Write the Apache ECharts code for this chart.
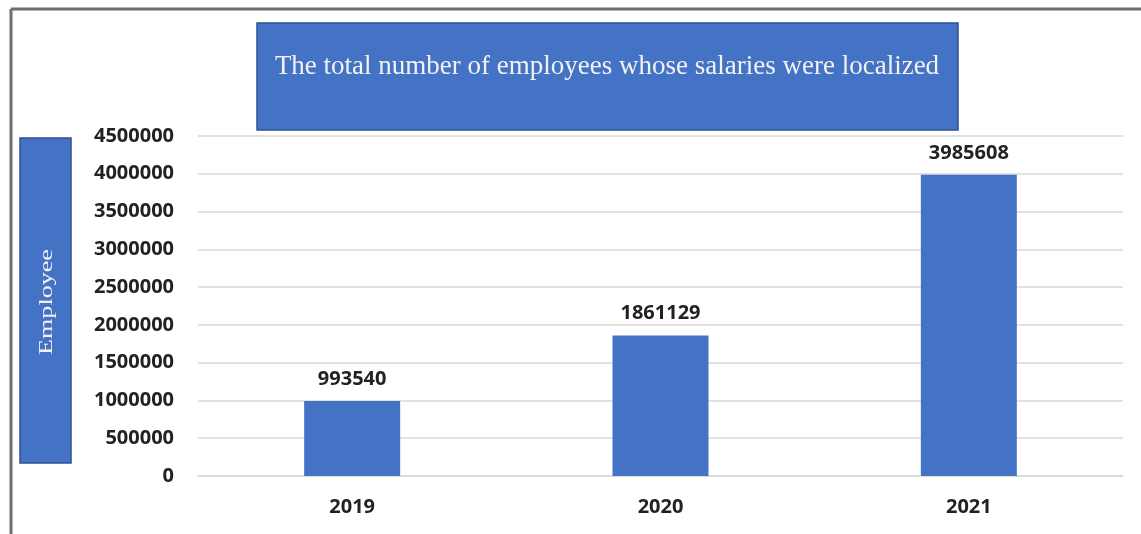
<!DOCTYPE html>
<html>
<head>
<meta charset="utf-8">
<script src="https://cdn.jsdelivr.net/npm/echarts@6/dist/echarts.min.js"></script>
<style>html,body{margin:0;padding:0;background:#fff;}#c{width:1141px;height:534px;}</style>
</head>
<body>
<div id="c"></div>
<script>
var categories = ['2019', '2020', '2021'];
var employees = [993540, 1861129, 3985608];
var titleText = 'The total number of employees whose salaries were localized';
var yAxisName = 'Employee';

var chart = echarts.init(document.getElementById('c'));
var labelFont = { fontFamily: 'Open Sans', fontWeight: 'bold', fontSize: 20, color: '#222' };
chart.setOption({
  animation: false,
  grid: { left: 198, right: 18, top: 136, bottom: 58 },
  xAxis: {
    type: 'category',
    data: categories,
    axisTick: { show: false },
    axisLine: { lineStyle: { color: '#d9d9d9', width: 1.5 } },
    axisLabel: Object.assign({ margin: 21 }, labelFont)
  },
  yAxis: {
    type: 'value',
    min: 0, max: 4500000, interval: 500000,
    axisLine: { show: false },
    axisTick: { show: false },
    splitLine: { lineStyle: { color: '#d9d9d9', width: 1.5 } },
    axisLabel: Object.assign({ margin: 24, formatter: function (v) { return String(v); } }, labelFont)
  },
  series: [{
    type: 'bar',
    data: employees,
    barWidth: 96,
    itemStyle: { color: '#4472C4' },
    label: Object.assign({ show: true, position: 'top', distance: 12 }, labelFont)
  }],
  graphic: [
    { type: 'line', shape: { x1: 11, y1: 9, x2: 1141, y2: 9 }, style: { stroke: '#6e6e6e', lineWidth: 3 } },
    { type: 'line', shape: { x1: 11, y1: 9, x2: 11, y2: 534 }, style: { stroke: '#6e6e6e', lineWidth: 3 } },
    { type: 'rect', shape: { x: 257, y: 23, width: 701, height: 107 },
      style: { fill: '#4472C4', stroke: '#2F528F', lineWidth: 1.5 } },
    { type: 'text', x: 607, y: 67,
      style: { text: titleText, fill: '#f2f2f2', font: '27px "Liberation Serif"', textAlign: 'center', textVerticalAlign: 'middle' } },
    { type: 'rect', shape: { x: 20, y: 138, width: 51, height: 325 },
      style: { fill: '#4472C4', stroke: '#2F528F', lineWidth: 1.5 } },
    { type: 'text', x: 47, y: 302, rotation: Math.PI / 2, scaleX: 1.45,
      style: { text: yAxisName, fill: '#f2f2f2', font: '18px "Liberation Serif"', textAlign: 'center', textVerticalAlign: 'middle' } }
  ]
});
</script>
</body>
</html>
